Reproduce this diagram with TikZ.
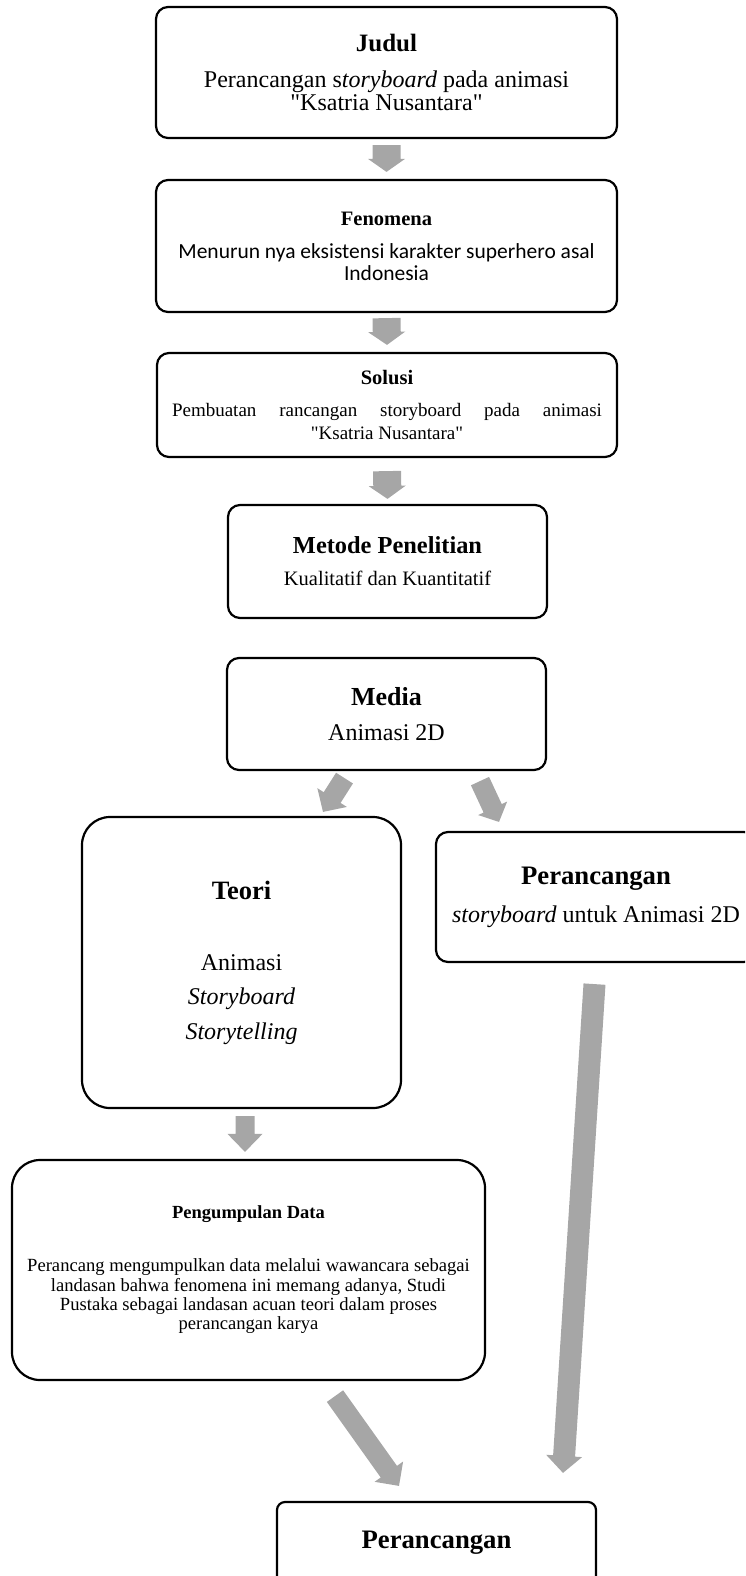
\documentclass[tikz,border=0pt]{standalone}
\usepackage{fontspec}
\setmainfont{Liberation Serif}[Ligatures=TeXOff]
\newfontfamily\calibrifont{Carlito}
\usetikzlibrary{calc}

\definecolor{arrowgray}{RGB}{166,166,166}

% block arrow: from, to, shaft half width, head half width, head length
\newcommand{\blockarrow}[5]{%
  \fill[arrowgray] let \p1=($(#2)-(#1)$), \n1={atan2(\y1,\x1)} in
    ($(#1)+(\n1+90:#3)$) -- ($(#2)+(\n1+180:#5)+(\n1+90:#3)$)
    -- ($(#2)+(\n1+180:#5)+(\n1+90:#4)$) -- (#2)
    -- ($(#2)+(\n1+180:#5)+(\n1-90:#4)$) -- ($(#2)+(\n1+180:#5)+(\n1-90:#3)$)
    -- ($(#1)+(\n1-90:#3)$) -- cycle;}

\begin{document}
\begin{tikzpicture}[
    x=1pt, y=-1pt,
    stage/.style={draw, line width=2.2pt, rounded corners=12pt, align=center, inner sep=0pt},
    bigstage/.style={stage, rounded corners=28pt}
]
\useasboundingbox (0,0) rectangle (745,1576);
\clip (0,0) rectangle (745,1576);

% Judul
\node[stage, minimum width=461pt, minimum height=131pt, font=\fontsize{24}{23}\selectfont] (judul) at (386.5,72.5)
  {{\bfseries\fontsize{25}{23}\selectfont Judul}\\[13pt]
   Perancangan s\textit{toryboard} pada animasi\\ "Ksatria Nusantara"};

% Fenomena
\node[stage, minimum width=461pt, minimum height=132pt, font=\calibrifont\fontsize{21.5}{22}\selectfont] (fenomena) at (386.5,246)
  {{\rmfamily\bfseries\fontsize{20.5}{22}\selectfont Fenomena}\\[11pt]
   Menurun nya eksistensi karakter superhero asal\\ Indonesia};

% Solusi
\node[stage, minimum width=460pt, minimum height=104pt, font=\fontsize{19}{23}\selectfont] (solusi) at (387,405)
  {{\bfseries\fontsize{20.5}{23}\selectfont Solusi}\\[9pt]
   \makebox[430pt][s]{Pembuatan rancangan storyboard pada animasi}\\ "Ksatria Nusantara"};

% Metode Penelitian
\node[stage, minimum width=319pt, minimum height=113pt, font=\fontsize{20.5}{32}\selectfont] (metode) at (387.5,561.5)
  {{\bfseries\fontsize{24.4}{32}\selectfont Metode Penelitian}\\
   Kualitatif dan Kuantitatif};

% Media
\node[stage, minimum width=319pt, minimum height=112pt, font=\fontsize{24}{35}\selectfont] (media) at (386.5,714)
  {{\bfseries\fontsize{26}{35}\selectfont Media}\\ Animasi 2D};

% Teori
\node[bigstage, minimum width=319pt, minimum height=291pt, font=\fontsize{24}{34.5}\selectfont] (teori) at (241.5,962.5)
  {{\bfseries\fontsize{26.5}{34.5}\selectfont Teori}\\[36.5pt]
   Animasi\\ \textit{Storyboard}\\ \textit{Storytelling}};

% Perancangan storyboard
\node[stage, minimum width=320pt, minimum height=130pt, font=\fontsize{24}{38}\selectfont] (rancang) at (596,897)
  {{\bfseries\fontsize{26.7}{38}\selectfont Perancangan}\\
   \textit{storyboard} untuk Animasi 2D};

% Pengumpulan Data
\node[bigstage, minimum width=473pt, minimum height=220pt, font=\fontsize{18.6}{19.3}\selectfont] (data) at (248.5,1270)
  {{\bfseries\fontsize{18.5}{19.3}\selectfont Pengumpulan Data}\\[33.7pt]
   Perancang mengumpulkan data melalui wawancara sebagai\\
   landasan bahwa fenomena ini memang adanya, Studi\\
   Pustaka sebagai landasan acuan teori dalam proses\\
   perancangan karya};

% Perancangan (hasil)
\node[stage, rounded corners=8pt, minimum width=319pt, minimum height=82pt] (hasil) at (436.5,1543)
  {\bfseries\fontsize{26.7}{30}\selectfont Perancangan};

% arrow ends
\coordinate (jf1) at ($(judul.south)+(0,6)$);
\coordinate (jf2) at ($(fenomena.north)+(0,-7)$);
\coordinate (fs1) at ($(fenomena.south)+(0,5)$);
\coordinate (fs2) at ($(solusi.north)+(0,-7)$);
\coordinate (sm1) at ($(solusi.south)+(0,13)$);
\coordinate (sm2) at ($(metode.north)+(0,-5)$);
\coordinate (mt1) at ($(media.south)+(-42,7)$);
\coordinate (mt2) at ($(teori.north)+(81.5,-4)$);
\coordinate (mr1) at ($(media.south)+(93.5,10)$);
\coordinate (mr2) at ($(rancang.north)+(-97,-9)$);
\coordinate (td1) at ($(teori.south)+(3.5,7)$);
\coordinate (td2) at ($(data.north)+(-3.5,-7)$);
\coordinate (dh1) at ($(data.south)+(86.5,15)$);
\coordinate (dh2) at ($(hasil.north)+(-37.5,-15)$);
\coordinate (rh1) at ($(rancang.south)+(-1.5,21)$);
\coordinate (rh2) at ($(hasil.north)+(126.5,-28)$);

% block arrows
\blockarrow{jf1}{jf2}{14pt}{18.5pt}{13pt}
\blockarrow{fs1}{fs2}{14pt}{18.5pt}{13pt}
\blockarrow{sm1}{sm2}{14pt}{18.5pt}{13pt}
\blockarrow{mt1}{mt2}{10pt}{17.5pt}{17pt}
\blockarrow{mr1}{mr2}{10pt}{16pt}{15pt}
\blockarrow{td1}{td2}{9.5pt}{17.5pt}{18pt}
\blockarrow{dh1}{dh2}{10pt}{17.5pt}{17.5pt}
\blockarrow{rh1}{rh2}{11pt}{18pt}{17pt}

\end{tikzpicture}
\end{document}
